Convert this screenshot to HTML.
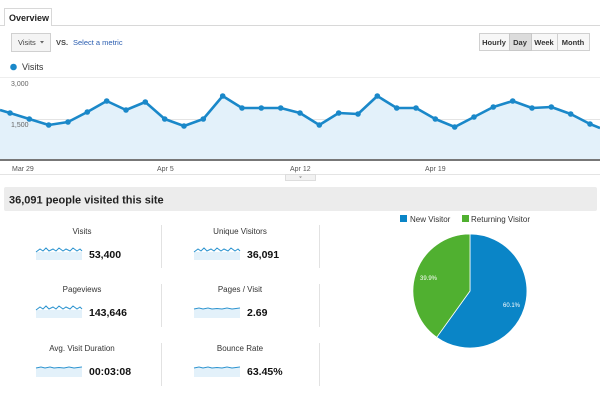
<!DOCTYPE html>
<html><head><meta charset="utf-8"><style>
html,body{margin:0;padding:0;background:#fff;width:600px;height:400px;overflow:hidden}
svg{display:block;font-family:"Liberation Sans",Arial,sans-serif}
</style></head><body>
<svg width="600" height="400" viewBox="0 0 600 400">
<!-- tab -->
<line x1="0" y1="25.5" x2="600" y2="25.5" stroke="#d8d8d8"/>
<path d="M4.5 26 V8.5 H51.5 V26" fill="#fff" stroke="#d8d8d8"/>
<text x="9" y="21" font-size="9" font-weight="bold" fill="#222">Overview</text>
<!-- dropdown -->
<rect x="11.5" y="33.5" width="39" height="18" fill="#f4f4f4" stroke="#d0d0d0"/>
<text x="18" y="45" font-size="7.5" fill="#444">Visits</text>
<path d="M40 41 L44 41 L42 43.5Z" fill="#666"/>
<text x="56" y="45" font-size="7.5" font-weight="bold" fill="#444">VS.</text>
<text x="73" y="45" font-size="7.5" fill="#2a5db0">Select a metric</text>
<!-- buttons -->
<rect x="479.5" y="33.5" width="110" height="17" fill="#f7f7f7" stroke="#d0d0d0"/>
<rect x="509.5" y="33.5" width="22" height="17" fill="#dcdcdc" stroke="#c8c8c8"/>
<line x1="557.5" y1="34" x2="557.5" y2="50" stroke="#d0d0d0"/>
<g font-size="7.5" font-weight="bold" fill="#333" text-anchor="middle">
<text x="494" y="45">Hourly</text><text x="520" y="45">Day</text><text x="544" y="45">Week</text><text x="573" y="45">Month</text></g>
<!-- legend -->
<circle cx="13.5" cy="67" r="3.3" fill="#1a88c9"/>
<text x="22" y="70" font-size="9" fill="#333">Visits</text>
<!-- chart -->
<line x1="0" y1="77.5" x2="600" y2="77.5" stroke="#eee"/>
<line x1="0" y1="119.5" x2="600" y2="119.5" stroke="#e4e4e4"/>
<polygon fill="#e3f1fa" points="0,159 0,110 10,113 29.3,119 48.7,125 68,122 87.3,112 106.7,101 126,110 145.3,102 164.7,119 184,126 203.3,119 222.7,96 242,108 261.3,108 280.7,108 300,113 319.3,125 338.7,113 358,114 377.3,96 396.7,108 416,108 435.3,119 454.7,127 474,117 493.3,107 512.7,101 532,108 551.3,107 570.7,114 590,124 600,128 600,159"/>
<text x="11" y="86" font-size="7" fill="#666">3,000</text>
<text x="11" y="127" font-size="7" fill="#666">1,500</text>
<polyline fill="none" stroke="#1a88c9" stroke-width="2.6" stroke-linejoin="round" points="0,110 10,113 29.3,119 48.7,125 68,122 87.3,112 106.7,101 126,110 145.3,102 164.7,119 184,126 203.3,119 222.7,96 242,108 261.3,108 280.7,108 300,113 319.3,125 338.7,113 358,114 377.3,96 396.7,108 416,108 435.3,119 454.7,127 474,117 493.3,107 512.7,101 532,108 551.3,107 570.7,114 590,124 600,128"/>
<g fill="#1a88c9">
<circle cx="10" cy="113" r="2.8"/><circle cx="29.3" cy="119" r="2.8"/><circle cx="48.7" cy="125" r="2.8"/><circle cx="68" cy="122" r="2.8"/><circle cx="87.3" cy="112" r="2.8"/><circle cx="106.7" cy="101" r="2.8"/><circle cx="126" cy="110" r="2.8"/><circle cx="145.3" cy="102" r="2.8"/><circle cx="164.7" cy="119" r="2.8"/><circle cx="184" cy="126" r="2.8"/><circle cx="203.3" cy="119" r="2.8"/><circle cx="222.7" cy="96" r="2.8"/><circle cx="242" cy="108" r="2.8"/><circle cx="261.3" cy="108" r="2.8"/><circle cx="280.7" cy="108" r="2.8"/><circle cx="300" cy="113" r="2.8"/><circle cx="319.3" cy="125" r="2.8"/><circle cx="338.7" cy="113" r="2.8"/><circle cx="358" cy="114" r="2.8"/><circle cx="377.3" cy="96" r="2.8"/><circle cx="396.7" cy="108" r="2.8"/><circle cx="416" cy="108" r="2.8"/><circle cx="435.3" cy="119" r="2.8"/><circle cx="454.7" cy="127" r="2.8"/><circle cx="474" cy="117" r="2.8"/><circle cx="493.3" cy="107" r="2.8"/><circle cx="512.7" cy="101" r="2.8"/><circle cx="532" cy="108" r="2.8"/><circle cx="551.3" cy="107" r="2.8"/><circle cx="570.7" cy="114" r="2.8"/><circle cx="590" cy="124" r="2.8"/></g>
<rect x="0" y="159" width="600" height="2" fill="#777"/>
<line x1="0" y1="174.5" x2="600" y2="174.5" stroke="#e4e4e4"/>
<g font-size="7" fill="#555"><text x="12" y="171">Mar 29</text><text x="157" y="171">Apr 5</text><text x="290" y="171">Apr 12</text><text x="425" y="171">Apr 19</text></g>
<rect x="285.5" y="174.5" width="30" height="6" fill="#f2f2f2" stroke="#ddd"/>
<path d="M299 176.5 L302 176.5 L300.5 178Z" fill="#888"/>
<!-- summary bar -->
<rect x="4" y="187" width="593" height="24" rx="2" fill="#ececec"/>
<text x="9" y="203.5" font-size="11" font-weight="bold" fill="#222">36,091 people visited this site</text>
<!-- metrics -->
<g stroke="#e2e2e2"><line x1="161.5" y1="225" x2="161.5" y2="268"/><line x1="319.5" y1="225" x2="319.5" y2="268"/>
<line x1="161.5" y1="284" x2="161.5" y2="327"/><line x1="319.5" y1="284" x2="319.5" y2="327"/>
<line x1="161.5" y1="343" x2="161.5" y2="386"/><line x1="319.5" y1="343" x2="319.5" y2="386"/></g>
<g font-size="8" fill="#333" text-anchor="middle">
<text x="82" y="234">Visits</text><text x="240" y="234">Unique Visitors</text>
<text x="82" y="292">Pageviews</text><text x="240" y="292">Pages / Visit</text>
<text x="82" y="351">Avg. Visit Duration</text><text x="240" y="351">Bounce Rate</text></g>
<g font-size="10.5" font-weight="bold" fill="#111">
<text x="89" y="258">53,400</text><text x="247" y="258">36,091</text>
<text x="89" y="316">143,646</text><text x="247" y="316">2.69</text>
<text x="89" y="375">00:03:08</text><text x="247" y="375">63.45%</text></g>
<defs>
<g id="sw"><rect x="0" y="5" width="46" height="8" fill="#e3f1fa"/><polyline points="0,5 4,2 7,4 10,1 13,4 17,2 20,4 23,1 27,4 30,2 34,4 37,1 41,4 44,2 46,4" fill="none" stroke="#2b93cf" stroke-width="1"/></g>
<g id="sf"><rect x="0" y="4" width="46" height="9" fill="#e3f1fa"/><polyline points="0,4 5,3 9,4 14,3 18,4 23,3.5 28,4 33,3 38,4 42,3.5 46,3" fill="none" stroke="#2b93cf" stroke-width="1"/></g>
</defs>
<use href="#sw" x="36" y="247"/><use href="#sw" x="194" y="247"/>
<use href="#sw" x="36" y="305"/><use href="#sf" x="194" y="305"/>
<use href="#sf" x="36" y="364"/><use href="#sf" x="194" y="364"/>
<!-- pie legend -->
<rect x="400" y="215" width="7" height="7" fill="#0a85c7"/>
<text x="410" y="222" font-size="8" fill="#333">New Visitor</text>
<rect x="462" y="215" width="7" height="7" fill="#50b030"/>
<text x="471" y="222" font-size="8" fill="#333">Returning Visitor</text>
<!-- pie -->
<path d="M470 291 L470 234 A57 57 0 1 1 436.7 337.3 Z" fill="#0a85c7" stroke="#fff" stroke-width="0.8"/>
<path d="M470 291 L436.7 337.3 A57 57 0 0 1 470 234 Z" fill="#50b030" stroke="#fff" stroke-width="0.8"/>
<text x="420" y="280" font-size="6" fill="#fff">39.9%</text>
<text x="503" y="307" font-size="6" fill="#fff">60.1%</text>
</svg>
</body></html>
